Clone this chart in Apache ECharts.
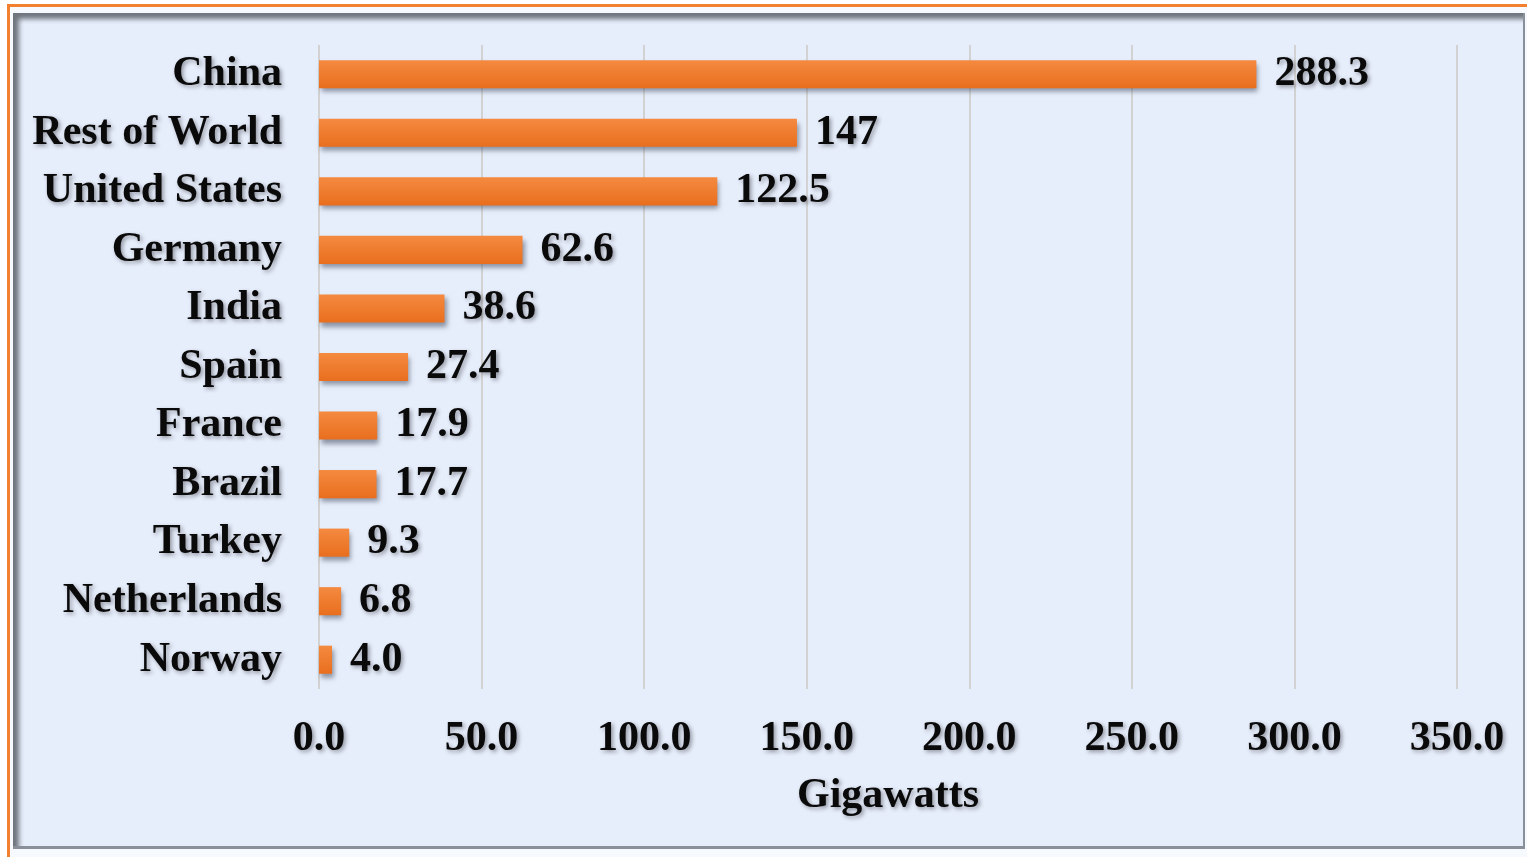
<!DOCTYPE html>
<html>
<head>
<meta charset="utf-8">
<script src="https://cdn.jsdelivr.net/npm/echarts@6/dist/echarts.min.js"></script>
<style>
  html, body { margin: 0; padding: 0; width: 1527px; height: 857px; overflow: hidden; background: #ffffff; }
  #frame {
    position: absolute; left: 7px; top: 4px; width: 1520px; height: 853px;
    border-top: 3px solid #F3802E; border-left: 3px solid #F3802E; box-sizing: border-box;
    background: #F6F9FE;
  }
  #panel {
    position: absolute; left: 13px; top: 13px; width: 1512px; height: 836px;
    background: #E7EEFB;
    box-shadow: inset 7px 7px 5px -1px #6F757D;
    border-right: 2px solid #8A9099; border-bottom: 3px solid #8A9099; box-sizing: border-box;
  }
  #chart { position: absolute; left: 0; top: 0; width: 1527px; height: 857px; }
</style>
</head>
<body>
<div id="frame"></div>
<div id="panel"></div>
<div id="chart"></div>
<script>
// Installed capacity by country
const countries = ['China', 'Rest of World', 'United States', 'Germany', 'India', 'Spain',
                   'France', 'Brazil', 'Turkey', 'Netherlands', 'Norway'];
const capacityGW = [288.3, 147, 122.5, 62.6, 38.6, 27.4, 17.9, 17.7, 9.3, 6.8, 4.0];
const valueLabels = ['288.3', '147', '122.5', '62.6', '38.6', '27.4', '17.9', '17.7', '9.3', '6.8', '4.0'];
const axisMin = 0, axisMax = 350, axisStep = 50;
const axisTitle = 'Gigawatts';

const serif = '"Liberation Serif", "DejaVu Serif", serif';
const textShadow = {
  textShadowColor: 'rgba(40,40,50,0.45)',
  textShadowBlur: 4,
  textShadowOffsetX: 2,
  textShadowOffsetY: 2
};

const chart = echarts.init(document.getElementById('chart'), null, { renderer: 'canvas' });
chart.setOption({
  backgroundColor: 'transparent',
  animation: false,
  grid: { left: 319, right: 70, top: 45, bottom: 168, containLabel: false },
  xAxis: {
    type: 'value',
    min: axisMin, max: axisMax, interval: axisStep,
    name: axisTitle,
    nameLocation: 'middle',
    nameGap: 86,
    nameTextStyle: Object.assign({ fontFamily: serif, fontWeight: 'bold', fontSize: 42, color: '#0a0a0a' }, textShadow),
    axisLine: { show: false },
    axisTick: { show: false },
    axisLabel: Object.assign({
      fontFamily: serif, fontWeight: 'bold', fontSize: 42, color: '#0a0a0a', margin: 29,
      formatter: v => v.toFixed(1)
    }, textShadow),
    splitLine: { show: true, lineStyle: { color: '#D2D2D2', width: 2 } }
  },
  yAxis: {
    type: 'category',
    data: countries,
    inverse: true,
    axisLine: { show: false },
    axisTick: { show: false },
    axisLabel: Object.assign({
      fontFamily: serif, fontWeight: 'bold', fontSize: 42, color: '#0a0a0a', margin: 37
    }, textShadow)
  },
  series: [{
    type: 'bar',
    data: capacityGW,
    barCategoryGap: '52%',
    itemStyle: {
      color: new echarts.graphic.LinearGradient(0, 0, 0, 1, [
        { offset: 0, color: '#F48A40' },
        { offset: 1, color: '#E96E1E' }
      ]),
      shadowColor: 'rgba(60,70,90,0.55)',
      shadowBlur: 5,
      shadowOffsetX: 2,
      shadowOffsetY: 4
    },
    label: Object.assign({
      show: true,
      position: 'right',
      distance: 18,
      fontFamily: serif, fontWeight: 'bold', fontSize: 42, color: '#0a0a0a',
      formatter: p => valueLabels[p.dataIndex]
    }, textShadow)
  }]
});
</script>
</body>
</html>
